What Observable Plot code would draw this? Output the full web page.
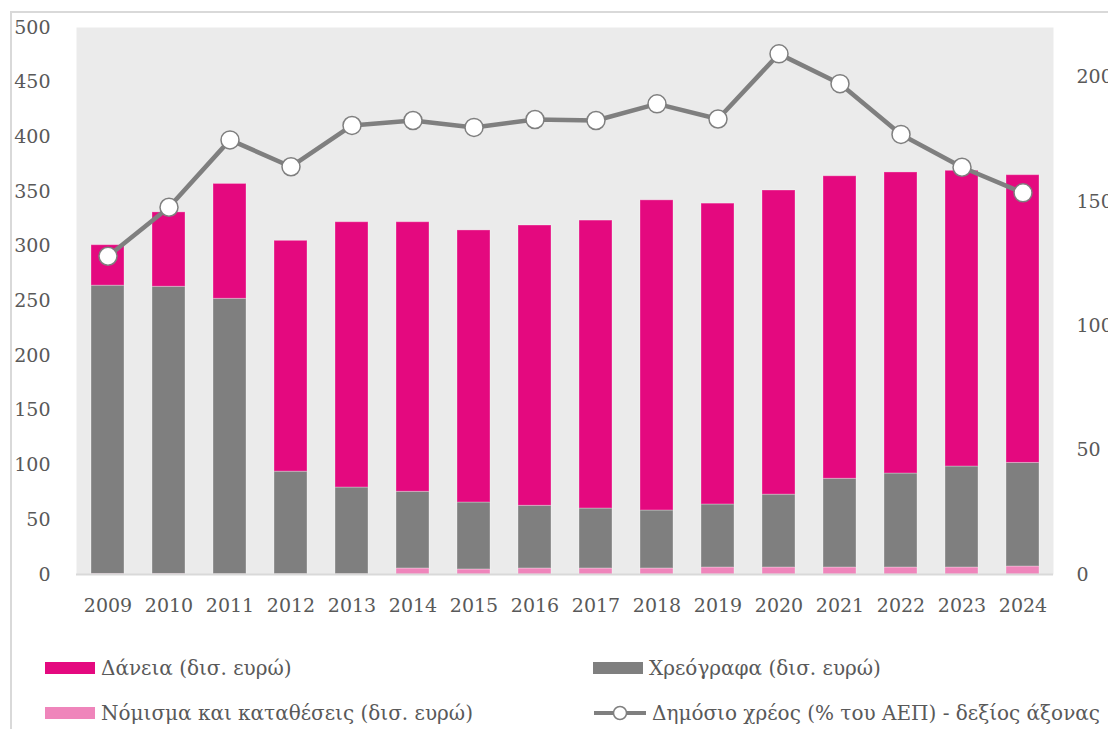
<!DOCTYPE html>
<html><head><meta charset="utf-8">
<script src="https://cdn.jsdelivr.net/npm/d3@7"></script>
<script src="https://cdn.jsdelivr.net/npm/@observablehq/plot@0.6"></script>
<style>
body{margin:0;width:1108px;height:729px;overflow:hidden;position:relative;background:#fff;font-family:"DejaVu Serif",serif;color:#595959}
#frame{position:absolute;left:10px;top:11px;width:1200px;height:800px;border:2px solid #d9d9d9;box-sizing:border-box}
#chart{position:absolute;left:0;top:0}
.leg{position:absolute;font-size:20px;display:flex;align-items:center;white-space:nowrap;height:24px}
.sw{display:inline-block;width:50px;height:12px;margin-right:6px}
</style></head><body>
<div id="frame"></div>
<div id="chart"></div>
<div id="legend"></div>
<script>
const years = ["2009","2010","2011","2012","2013","2014","2015","2016","2017","2018","2019","2020","2021","2022","2023","2024"];
const currency = [0.5,0.5,0.3,0.3,0.3,5.5,4.6,5.5,5.5,5.5,6.4,6.4,6.4,6.4,6.4,7.3];
const securities = [263.5,262.5,251.7,93.7,79.2,70.1,61.2,57.3,54.8,53,57.6,66.6,81.1,85.9,92.3,94.7];
const loans = [37,68,105,211,242.5,246.4,248.7,256.2,263.2,283.5,275,278,276.5,275.2,270.3,263];
const debt = [128,147.7,174.8,164,180.6,182.6,179.8,183,182.6,189.3,183.2,209.4,197.4,177,163.8,153.5];
const seriesNames = ["Νόμισμα και καταθέσεις (δισ. ευρώ)","Χρεόγραφα (δισ. ευρώ)","Δάνεια (δισ. ευρώ)"];
const seriesColors = ["#ef85bb","#7f7f7f","#e4097f"];
const lineName = "Δημόσιο χρέος (% του ΑΕΠ) - δεξίος άξονας";
const leftTicks = [0,50,100,150,200,250,300,350,400,450,500];
const rightTicks = [0,50,100,150,200];
const leftMax = 500, rightMax = 220;

const k = leftMax / rightMax;
const seriesValues = [currency, securities, loans];
const bars = [];
years.forEach((y, i) => seriesNames.forEach((s, j) => bars.push({year: y, series: s, value: seriesValues[j][i]})));
const debtData = years.map((y, i) => ({year: y, value: debt[i] * k}));

const chart = Plot.plot({
  width: 1108, height: 630,
  marginLeft: 76, marginRight: 55, marginTop: 27, marginBottom: 56,
  style: {fontFamily: "'DejaVu Serif', serif", fontSize: "19px", color: "#595959", background: "transparent"},
  x: {domain: years, paddingInner: 0.46, paddingOuter: 0.23, label: null},
  y: {domain: [0, leftMax], label: null},
  color: {domain: seriesNames, range: seriesColors},
  marks: [
    Plot.frame({fill: "#ebebeb", stroke: "none"}),
    Plot.barY(bars, {x: "year", y: "value", fill: "series", order: seriesNames, stroke: "#ffffff", strokeOpacity: 0.3, strokeWidth: 1}),
    Plot.ruleY([0], {stroke: "#d9d9d9", strokeWidth: 2}),
    Plot.axisX({tickSize: 0, tickPadding: 24, label: null}),
    Plot.axisY(leftTicks, {anchor: "left", tickSize: 0, tickPadding: 26, label: null}),
    Plot.axisY(rightTicks.map(t => t * k), {anchor: "right", tickSize: 0, tickPadding: 23, label: null, tickFormat: d => String(Math.round(d / k))}),
    Plot.line(debtData, {x: "year", y: "value", stroke: "#7f7f7f", strokeWidth: 4.5}),
    Plot.dot(debtData, {x: "year", y: "value", r: 9, fill: "white", stroke: "#7f7f7f", strokeWidth: 1.5})
  ]
});
document.getElementById("chart").appendChild(chart);

const legend = document.getElementById("legend");
const items = [
  {name: seriesNames[2], color: seriesColors[2], left: 45, top: 656},
  {name: seriesNames[1], color: seriesColors[1], left: 593, top: 656},
  {name: seriesNames[0], color: seriesColors[0], left: 45, top: 701},
  {name: lineName, line: true, left: 593, top: 701}
];
items.forEach(it => {
  const d = document.createElement("div");
  d.className = "leg";
  d.style.left = it.left + "px";
  d.style.top = it.top + "px";
  if (it.line) {
    d.innerHTML = '<svg width="54" height="20" style="margin-right:5px"><line x1="1" y1="10" x2="53" y2="10" stroke="#7f7f7f" stroke-width="4"/><circle cx="27" cy="10" r="6.5" fill="white" stroke="#7f7f7f" stroke-width="1.5"/></svg>';
  } else {
    d.innerHTML = '<span class="sw" style="background:' + it.color + '"></span>';
  }
  const t = document.createElement("span");
  t.textContent = it.name;
  d.appendChild(t);
  legend.appendChild(d);
});
</script>
</body></html>
